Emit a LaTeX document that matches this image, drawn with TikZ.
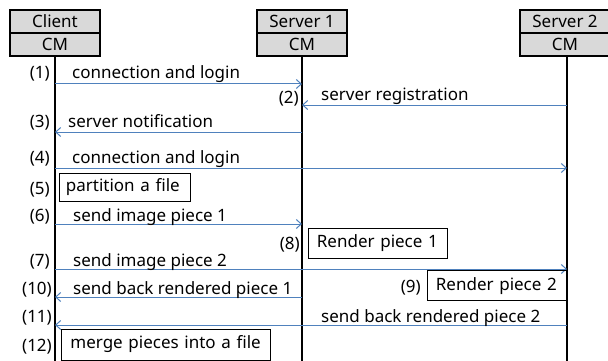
\documentclass[tikz,border=0pt]{standalone}
\usepackage{fontspec}
\setmainfont{Noto Sans}
\usetikzlibrary{arrows.meta}
\definecolor{msgblue}{RGB}{79,129,189}
\definecolor{hdrgray}{RGB}{217,217,217}
\tikzset{
  hdr/.style={draw=black,line width=1.6pt,fill=hdrgray,minimum width=90pt,minimum height=23pt,inner sep=0pt,font=\fontsize{17}{17}\selectfont},
  life/.style={draw=black,line width=1.3pt},
  msg/.style={draw=msgblue,line width=1pt,-{Straight Barb[length=5pt,width=9pt]}},
  lbl/.style={anchor=base west,inner sep=0pt,font=\fontsize{17}{17}\selectfont},
  num/.style={anchor=base east,inner sep=0pt,font=\fontsize{17}{17}\selectfont},
  act/.style={draw=black,line width=0.8pt,anchor=west,inner xsep=9pt,inner ysep=0pt,align=left,font=\fontsize{17}{17}\selectfont}
}
\begin{document}
\begin{tikzpicture}[x=1pt,y=-1pt]
\useasboundingbox (0,0) rectangle (608,361);
% headers
\node[hdr] (cl1) at (55,21.5) {Client};
\node[hdr] (cl2) at (55,44.5) {CM};
\node[hdr] (s11) at (302,21.5) {Server 1};
\node[hdr] (s12) at (302,44.5) {CM};
\node[hdr] (s21) at (565,21.5) {Server 2};
\node[hdr] (s22) at (565,44.5) {CM};
% lifelines
\coordinate (clE) at (55,361);
\coordinate (s1E) at (302,361);
\coordinate (s2E) at (567,361);
\draw[life] (cl2.south) -- (clE);
\draw[life] (s12.south) -- (s1E);
\draw[life] (s22.south -| s2E) -- (s2E);
% message endpoints
\coordinate (c1) at (55,84);   \coordinate (a1) at (302,84);
\coordinate (b2) at (567,105); \coordinate (a2) at (302,105);
\coordinate (a3) at (302,132); \coordinate (c3) at (55,132);
\coordinate (c4) at (55,168);  \coordinate (b4) at (567,168);
\coordinate (c6) at (55,224);  \coordinate (a6) at (302,224);
\coordinate (c7) at (55,269);  \coordinate (b7) at (567,269);
\coordinate (a10) at (302,297); \coordinate (c10) at (55,297);
\coordinate (b11) at (567,325); \coordinate (c11) at (55,325);
\draw[msg] (c1) -- (a1);
\draw[msg] (b2) -- (a2);
\draw[msg] (a3) -- (c3);
\draw[msg] (c4) -- (b4);
\draw[msg] (c6) -- (a6);
\draw[msg] (c7) -- (b7);
\draw[msg] (a10) -- (c10);
\draw[msg] (b11) -- (c11);
% labels
\node[lbl] (t1) at (72,79) {connection and login};
\node[lbl] (t2) at (321,100) {server registration};
\node[lbl] (t3) at (68,127) {server notification};
\node[lbl] (t4) at (72,163) {connection and login};
\node[lbl] (t6) at (73,221) {send image piece 1};
\node[lbl] (t7) at (73,266) {send image piece 2};
\node[lbl] (t10) at (73,294) {send back rendered piece 1};
\node[lbl] (t11) at (321,322) {send back rendered piece 2};
% numbers
\node[num] (n1) at (50,79) {(1)};
\node[num] (n2) at (299,103) {(2)};
\node[num] (n3) at (50,127) {(3)};
\node[num] (n4) at (50,163) {(4)};
\node[num] (n5) at (50,194) {(5)};
\node[num] (n6) at (50,221) {(6)};
\node[num] (n7) at (50,266) {(7)};
\node[num] (n8) at (300,249) {(8)};
\node[num] (n9) at (421,292) {(9)};
\node[num] (n10) at (52,294) {(10)};
\node[num] (n11) at (52,322) {(11)};
\node[num] (n12) at (52,351) {(12)};
% action boxes
\node[act,inner xsep=7pt,text width=117pt,minimum height=28pt] (p5) at (58.5,187) {partition a file};
\node[act,text width=121pt,minimum height=30pt] (p8) at (307.5,243.3) {Render piece 1};
\node[act,text width=121pt,minimum height=30pt] (p9) at (426.5,285.7) {Render piece 2};
\node[act,text width=191pt,minimum height=31pt] (p12) at (61,344.5) {merge pieces into a file};
\end{tikzpicture}
\end{document}
